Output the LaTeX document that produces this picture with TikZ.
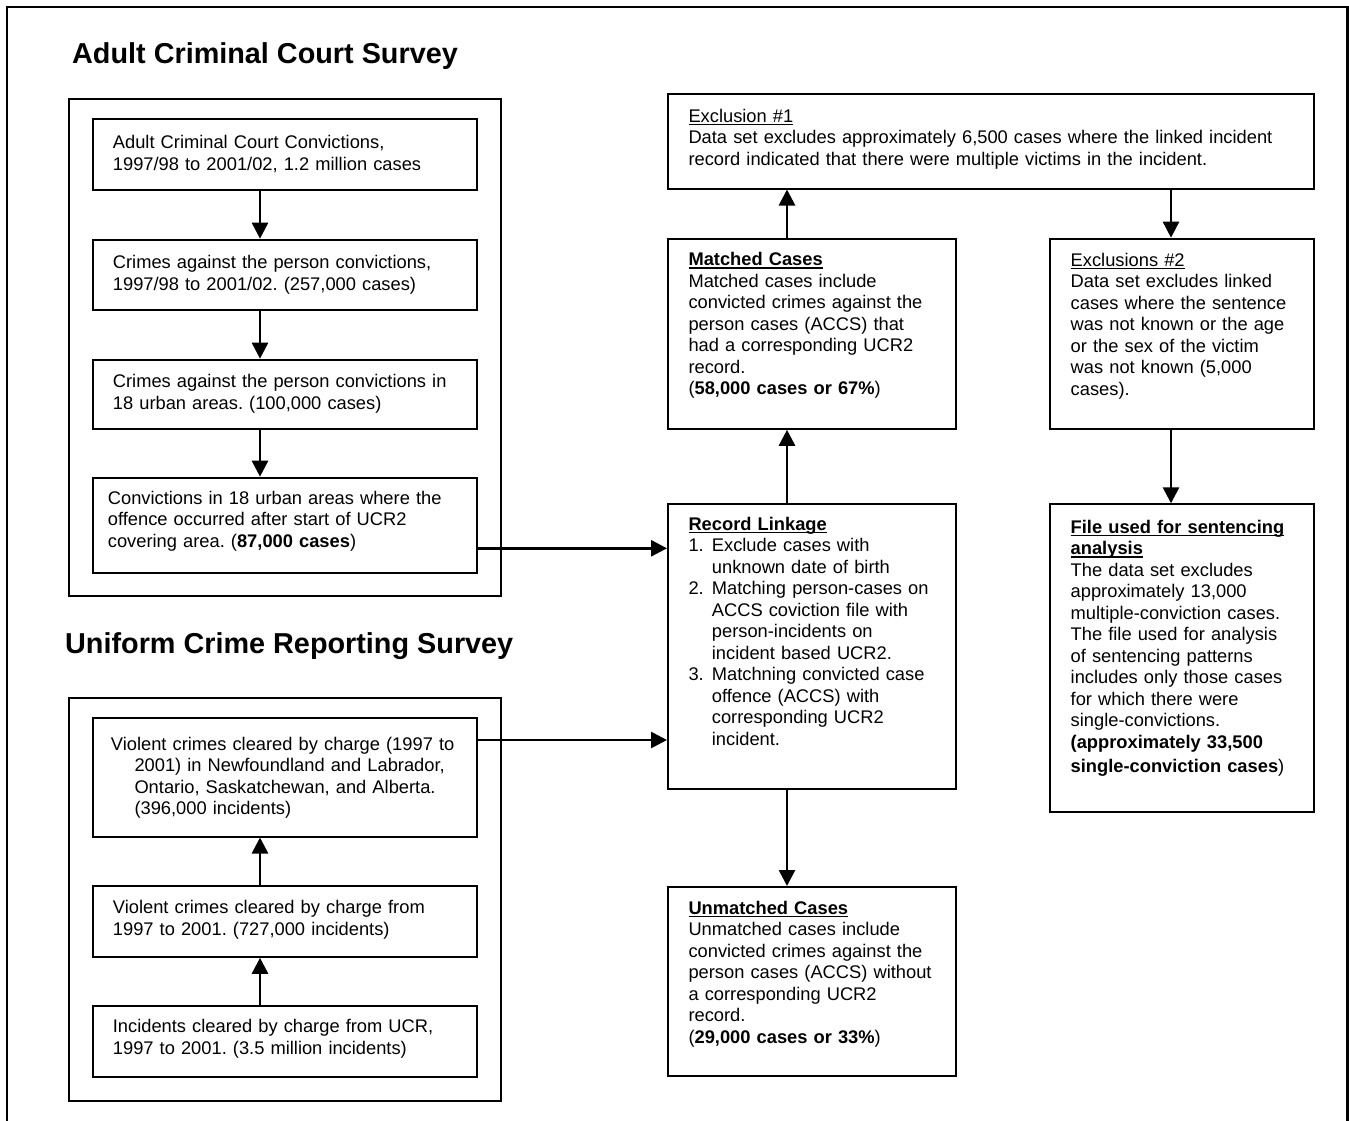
\documentclass[tikz,border=0pt]{standalone}
\usepackage{fontspec}
\setmainfont{Liberation Sans}
\usetikzlibrary{arrows.meta,calc}
\newcommand\ulx[1]{\leavevmode\setbox0=\hbox{#1}\rlap{\rule[-2.9pt]{\wd0}{1.4pt}}\box0}
\def\sh{15.05}
\frenchspacing
\begin{document}
\begin{tikzpicture}[x=1pt,y=-1pt,
  bx/.style={draw,line width=1.8pt,inner sep=0pt,anchor=north west},
  cont/.style={draw,line width=1.6pt,inner sep=0pt,anchor=north west},
  tx/.style={anchor=north west,inner sep=0pt,text width=640pt,align=left,
    font=\fontsize{18.3}{21.5}\selectfont\frenchspacing},
  ttl/.style={anchor=base west,inner sep=0pt,font=\fontsize{28.8}{32}\selectfont\bfseries},
  arr/.style={line width=2.7pt,-{Triangle[length=16pt,width=16pt]}}]
\useasboundingbox (0,0) rectangle (1349,1121);
% outer frame
\draw[line width=2.4pt] (7,1121) -- (7,7) -- (1347.5,7) -- (1347.5,1121);

% titles
\node[ttl] (t1) at (72,64) {Adult Criminal Court Survey};
\node[ttl] (t2) at (65,653) {Uniform Crime Reporting Survey};

% containers
\node[cont,minimum width=432pt,minimum height=497pt] (ca) at (68,98) {};
\node[cont,minimum width=432pt,minimum height=403pt] (cu) at (68,697) {};

% ACCS chain
\node[bx,minimum width=384pt,minimum height=71pt] (a1) at (92,118.3) {};
\node[bx,minimum width=384pt,minimum height=70.6pt] (a2) at (92,238.7) {};
\node[bx,minimum width=384pt,minimum height=69.6pt] (a3) at (92,358.7) {};
\node[bx,minimum width=384pt,minimum height=95pt] (a4) at (92,476.7) {};
\node[tx] (a1t) at (112.7,148.3-\sh) {\strut Adult Criminal Court Convictions,\\1997/98 to 2001/02, 1.2 million cases};
\node[tx] (a2t) at (112.7,268.3-\sh) {\strut Crimes against the person convictions,\\1997/98 to 2001/02. (257,000 cases)};
\node[tx] (a3t) at (112.7,387.3-\sh) {\strut Crimes against the person convictions in\\18 urban areas. (100,000 cases)};
\node[tx] (a4t) at (107.7,504-\sh) {\strut Convictions in 18 urban areas where the\\offence occurred after start of UCR2\\covering area. (\textbf{87,000 cases})};

% UCR chain
\node[bx,minimum width=384pt,minimum height=118.4pt] (u1) at (92,717.3) {};
\node[bx,minimum width=384pt,minimum height=71pt] (u2) at (92,885) {};
\node[bx,minimum width=384pt,minimum height=71pt] (u3) at (92,1005) {};
\node[tx] (u1t) at (110.7,750-\sh) {\strut Violent crimes cleared by charge (1997 to\\\hspace*{23.6pt}2001) in Newfoundland and Labrador,\\\hspace*{23.6pt}Ontario, Saskatchewan, and Alberta.\\\hspace*{23.6pt}(396,000 incidents)};
\node[tx] (u2t) at (112.7,913.3-\sh) {\strut Violent crimes cleared by charge from\\1997 to 2001. (727,000 incidents)};
\node[tx] (u3t) at (112.7,1032.7-\sh) {\strut Incidents cleared by charge from UCR,\\1997 to 2001. (3.5 million incidents)};

% right side boxes
\node[bx,minimum width=646pt,minimum height=94.4pt] (x1) at (667,93.3) {};
\node[bx,minimum width=288pt,minimum height=190.3pt] (m) at (667,237.7) {};
\node[bx,minimum width=264pt,minimum height=190.3pt] (x2) at (1049,237.7) {};
\node[bx,minimum width=288pt,minimum height=284.7pt] (rl) at (667,503.3) {};
\node[bx,minimum width=264pt,minimum height=307.7pt] (f) at (1049,503.3) {};
\node[bx,minimum width=288pt,minimum height=189pt] (um) at (667,886) {};

\node[tx] (x1t) at (688.3,122.3-\sh) {\strut\ulx{Exclusion \#1}\\Data set excludes approximately 6,500 cases where the linked incident\\record indicated that there were multiple victims in the incident.};
\node[tx] (mt) at (688.3,265.7-\sh) {\strut\ulx{\textbf{Matched Cases}}\\Matched cases include\\convicted crimes against the\\person cases (ACCS) that\\had a corresponding UCR2\\record.\\(\textbf{58,000 cases or 67\%})};
\node[tx] (x2t) at (1070.5,266-\sh) {\strut\ulx{Exclusions \#2}\\Data set excludes linked\\cases where the sentence\\was not known or the age\\or the sex of the victim\\was not known (5,000\\cases).};
\node[tx] (rlt) at (688.3,530-\sh) {\strut\ulx{\textbf{Record Linkage}}\\
\makebox[23.4pt][l]{1.}Exclude cases with\\\hspace*{23.4pt}unknown date of birth\\
\makebox[23.4pt][l]{2.}Matching person-cases on\\\hspace*{23.4pt}ACCS coviction file with\\\hspace*{23.4pt}person-incidents on\\\hspace*{23.4pt}incident based UCR2.\\
\makebox[23.4pt][l]{3.}Matchning convicted case\\\hspace*{23.4pt}offence (ACCS) with\\\hspace*{23.4pt}corresponding UCR2\\\hspace*{23.4pt}incident.};
\node[tx] (ft) at (1070.5,533-\sh) {\strut\ulx{\textbf{File used for sentencing}}\\\ulx{\textbf{analysis}}\\The data set excludes\\approximately 13,000\\multiple-conviction cases.\\The file used for analysis\\of sentencing patterns\\includes only those cases\\for which there were\\single-convictions.\\\textbf{(approximately 33,500}\\[3pt]\textbf{single-conviction cases})};
\node[tx] (umt) at (688.3,914-\sh) {\strut\ulx{\textbf{Unmatched Cases}}\\Unmatched cases include\\convicted crimes against the\\person cases (ACCS) without\\a corresponding UCR2\\record.\\(\textbf{29,000 cases or 33\%})};

% helper coordinates
\coordinate (xa) at (260,0);
\coordinate (xm) at (787,0);
\coordinate (xe) at (1171,0);
\coordinate (ya) at (0,548.3);
\coordinate (yb) at (0,740);

% arrows
\draw[arr] (a1.south -| xa) -- (a2.north -| xa);
\draw[arr] (a2.south -| xa) -- (a3.north -| xa);
\draw[arr] (a3.south -| xa) -- (a4.north -| xa);
\draw[arr] (u3.north -| xa) -- (u2.south -| xa);
\draw[arr] (u2.north -| xa) -- (u1.south -| xa);
\draw[arr] (a4.east |- ya) -- (rl.west |- ya);
\draw[arr] (u1.east |- yb) -- (rl.west |- yb);
\draw[arr] (rl.north -| xm) -- (m.south -| xm);
\draw[arr] (m.north -| xm) -- (x1.south -| xm);
\draw[arr] (rl.south -| xm) -- (um.north -| xm);
\draw[arr] (x1.south -| xe) -- (x2.north -| xe);
\draw[arr] (x2.south -| xe) -- (f.north -| xe);
\end{tikzpicture}
\end{document}
